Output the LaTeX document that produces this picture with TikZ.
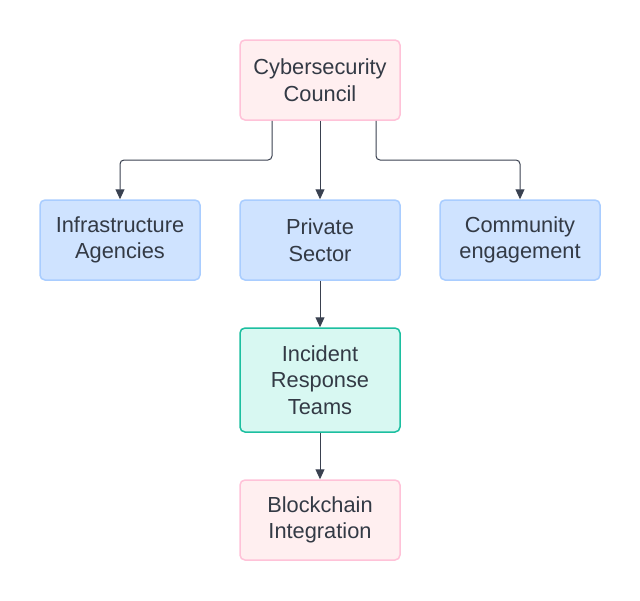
\documentclass[tikz,border=0pt]{standalone}
\usepackage{fontspec}
\setmainfont{Liberation Sans}
\usetikzlibrary{arrows.meta}
\definecolor{txt}{HTML}{333A45}
\definecolor{ln}{HTML}{3A4150}
\definecolor{pinkfill}{HTML}{FFEFF0}
\definecolor{pinkdraw}{HTML}{FFC2D8}
\definecolor{bluefill}{HTML}{CFE3FF}
\definecolor{bluedraw}{HTML}{A9CDFF}
\definecolor{tealfill}{HTML}{D8F8F2}
\definecolor{tealdraw}{HTML}{1CBFA0}
\tikzset{
  x=1pt,y=-1pt,
  box/.style={rounded corners=5pt, line width=1.5pt, minimum width=160pt, minimum height=80pt,
    align=center, text=txt, font=\fontsize{21.8}{26.5}\selectfont, inner sep=0pt},
  pinkbox/.style={box, fill=pinkfill, draw=pinkdraw},
  bluebox/.style={box, fill=bluefill, draw=bluedraw},
  tealbox/.style={box, fill=tealfill, draw=tealdraw, minimum height=104pt},
  conn/.style={draw=ln, line width=1pt, rounded corners=4pt, -{Triangle[width=9pt,length=10pt]}}
}
\begin{document}
\begin{tikzpicture}
\useasboundingbox (0,0) rectangle (640,600);
\node[pinkbox] (council) at (320,80) {Cybersecurity\\Council};
\node[bluebox] (infra) at (120,240) {Infrastructure\\Agencies};
\node[bluebox] (private) at (320,240) {Private\\Sector};
\node[bluebox] (community) at (520,240) {Community\\engagement};
\node[tealbox] (incident) at (320,380) {Incident\\Response\\Teams};
\node[pinkbox] (block) at (320,520) {Blockchain\\Integration};
\draw[conn] (council.south -| 272,0) |- (196,160) -| (infra.north);
\draw[conn] (council.south) -- (private.north);
\draw[conn] (council.south -| 376,0) |- (444,160) -| (community.north);
\draw[conn] (private.south) -- (incident.north);
\draw[conn] (incident.south) -- (block.north);
\end{tikzpicture}
\end{document}
